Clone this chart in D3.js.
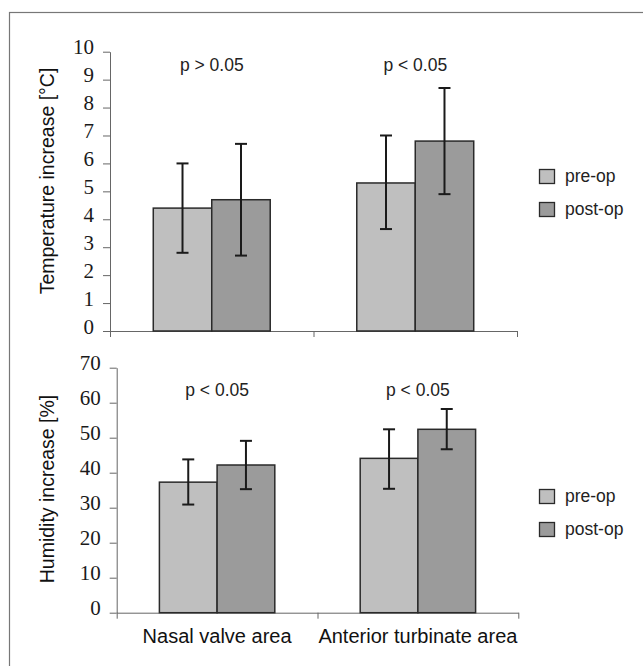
<!DOCTYPE html>
<html>
<head>
<meta charset="utf-8">
<script src="https://cdn.jsdelivr.net/npm/d3@7"></script>
<style>
  body { margin: 0; background: #fff; }
  svg { display: block; }
</style>
</head>
<body>
<div id="chart"></div>
<script>
// data
const categories = ['Nasal valve area', 'Anterior turbinate area'];
const series = ['pre-op', 'post-op'];

const tempMean = [[4.4, 4.7], [5.3, 6.8]];
const tempLow  = [[2.8, 2.7], [3.65, 4.9]];
const tempHigh = [[6.0, 6.7], [7.0, 8.7]];
const tempP = ['p > 0.05', 'p < 0.05'];

const humMean = [[37.3, 42.2], [44.1, 52.4]];
const humLow  = [[30.9, 35.3], [35.4, 46.7]];
const humHigh = [[43.8, 49.1], [52.4, 58.2]];
const humP = ['p < 0.05', 'p < 0.05'];

const tempTicks = d3.range(0, 11, 1);
const humTicks = d3.range(0, 71, 10);

const colors = { 'pre-op': '#bfbfbf', 'post-op': '#9b9b9b' };
const sans = '"Liberation Sans", Arial, sans-serif';

const W = 643, H = 666;
const svg = d3.select('#chart').append('svg')
    .attr('width', W)
    .attr('height', H);

// outer frame (only top/left edges fall inside the picture)
svg.append('rect')
    .attr('x', 9.5).attr('y', 12.5)
    .attr('width', 700).attr('height', 700)
    .attr('fill', 'none')
    .attr('stroke', '#777')
    .attr('stroke-width', 1.2);

function drawPanel(opts) {
    const { mean, low, high, pLabels, ticks, yMax, x0, x1, yTop, yBottom, yLabel, labelY, pY, legendY, showCats } = opts;
    const g = svg.append('g');

    const x = d3.scaleBand().domain(categories).range([x0, x1]).padding(0);
    const xs = d3.scaleBand().domain(series).range([0, x.bandwidth()])
        .paddingInner(0).paddingOuter(0.74);
    const y = d3.scaleLinear().domain([0, yMax]).range([yBottom, yTop]);

    // y axis
    const yAxis = g.append('g')
        .attr('transform', `translate(${x0},0)`)
        .call(d3.axisLeft(y).tickValues(ticks).tickSize(7).tickSizeOuter(0).tickFormat(d3.format('d')));
    yAxis.select('.domain').attr('stroke', '#666');
    yAxis.selectAll('.tick line').attr('stroke', '#666');
    yAxis.selectAll('.tick text')
        .attr('x', -16)
        .attr('dy', '0.1em')
        .style('font-family', '"Liberation Serif", "Times New Roman", serif')
        .style('font-size', '21px')
        .attr('fill', '#1a1a1a');

    // category axis with boundary ticks
    const xb = d3.scaleLinear().domain([0, categories.length]).range([x0, x1]);
    const xAxis = g.append('g')
        .attr('transform', `translate(0,${yBottom})`)
        .call(d3.axisBottom(xb).tickValues(d3.range(0, categories.length + 1)).tickSize(6).tickSizeOuter(0).tickFormat(''));
    xAxis.select('.domain').attr('stroke', '#666');
    xAxis.selectAll('.tick line').attr('stroke', '#666');

    // bars
    categories.forEach((c, ci) => {
        series.forEach((s, si) => {
            const bx = x(c) + xs(s);
            g.append('rect')
                .attr('x', bx)
                .attr('y', y(mean[ci][si]))
                .attr('width', xs.bandwidth())
                .attr('height', y(0) - y(mean[ci][si]))
                .attr('fill', colors[s])
                .attr('stroke', '#2a2a2a')
                .attr('stroke-width', 1.5);

            const cx = bx + xs.bandwidth() / 2;
            const eb = g.append('g').attr('stroke', '#1a1a1a').attr('stroke-width', 2);
            eb.append('line').attr('x1', cx).attr('x2', cx).attr('y1', y(low[ci][si])).attr('y2', y(high[ci][si]));
            eb.append('line').attr('x1', cx - 6).attr('x2', cx + 6).attr('y1', y(low[ci][si])).attr('y2', y(low[ci][si]));
            eb.append('line').attr('x1', cx - 6).attr('x2', cx + 6).attr('y1', y(high[ci][si])).attr('y2', y(high[ci][si]));
        });

        g.append('text')
            .attr('x', x(c) + x.bandwidth() / 2)
            .attr('y', pY)
            .attr('dy', '0.35em')
            .attr('text-anchor', 'middle')
            .style('font-family', sans)
            .style('font-size', '17.5px')
            .attr('fill', '#222')
            .text(pLabels[ci]);

        if (showCats) {
            g.append('text')
                .attr('x', x(c) + x.bandwidth() / 2)
                .attr('y', 643)
                .attr('text-anchor', 'middle')
                .style('font-family', sans)
                .style('font-size', '20px')
                .attr('fill', '#111')
                .text(c);
        }
    });

    // y label
    g.append('text')
        .attr('transform', `translate(47,${labelY}) rotate(-90)`)
        .attr('dy', '0.35em')
        .attr('text-anchor', 'middle')
        .style('font-family', sans)
        .style('font-size', '19.5px')
        .attr('fill', '#111')
        .text(yLabel);

    // legend
    const leg = g.append('g').attr('transform', `translate(539,${legendY})`);
    series.forEach((s, i) => {
        leg.append('rect')
            .attr('x', 0.5).attr('y', i * 33 + 0.5)
            .attr('width', 15).attr('height', 14)
            .attr('fill', colors[s])
            .attr('stroke', '#2a2a2a')
            .attr('stroke-width', 1.3);
        leg.append('text')
            .attr('x', 26).attr('y', i * 33 + 7)
            .attr('dy', '0.35em')
            .style('font-family', sans)
            .style('font-size', '17.5px')
            .attr('fill', '#222')
            .text(s);
    });
}

drawPanel({
    mean: tempMean, low: tempLow, high: tempHigh, pLabels: tempP,
    ticks: tempTicks, yMax: 10,
    x0: 110, x1: 517, yTop: 51.7, yBottom: 331,
    yLabel: 'Temperature increase [°C]', labelY: 181, pY: 65,
    legendY: 169, showCats: false
});

drawPanel({
    mean: humMean, low: humLow, high: humHigh, pLabels: humP,
    ticks: humTicks, yMax: 70,
    x0: 116.7, x1: 518.3, yTop: 367.7, yBottom: 612.7,
    yLabel: 'Humidity increase [%]', labelY: 489, pY: 390,
    legendY: 489, showCats: true
});
</script>
</body>
</html>
